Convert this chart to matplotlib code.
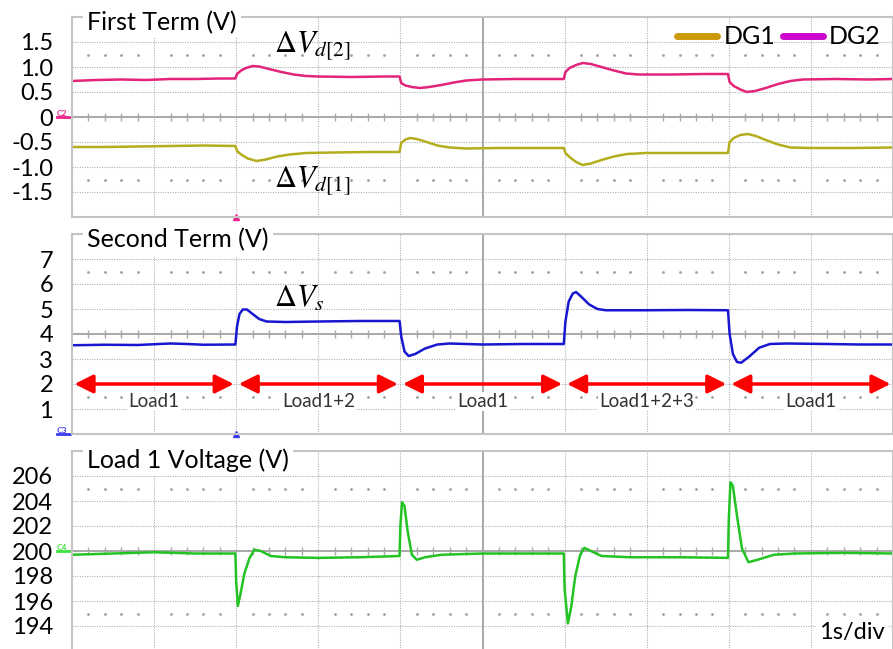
import matplotlib
matplotlib.use('Agg')
import numpy as np
import matplotlib.pyplot as plt
from matplotlib.lines import Line2D

plt.rcParams['font.family'] = ['Lato', 'DejaVu Sans']
plt.rcParams['mathtext.fontset'] = 'stix'

# --- data (time in s, value) ---
dg2_trace = [(0.0, 0.72), (0.3, 0.74), (0.6, 0.75), (0.9, 0.74), (1.2, 0.76), (1.5, 0.76), (1.8, 0.77), (1.99, 0.77),
             (2.01, 0.86), (2.06, 0.93), (2.12, 0.98), (2.2, 1.02), (2.28, 1.01), (2.4, 0.96), (2.55, 0.9), (2.7, 0.85),
             (2.85, 0.82), (3.0, 0.81), (3.4, 0.8), (3.8, 0.81), (3.99, 0.81),
             (4.01, 0.68), (4.06, 0.63), (4.14, 0.6), (4.24, 0.58), (4.35, 0.6), (4.5, 0.64), (4.65, 0.69), (4.8, 0.73),
             (5.0, 0.75), (5.4, 0.76), (5.8, 0.76), (5.99, 0.76),
             (6.01, 0.9), (6.06, 0.98), (6.14, 1.04), (6.22, 1.08), (6.32, 1.06), (6.45, 1.0), (6.6, 0.93), (6.75, 0.87),
             (6.9, 0.85), (7.3, 0.85), (7.7, 0.86), (7.99, 0.86),
             (8.01, 0.7), (8.06, 0.62), (8.14, 0.55), (8.22, 0.5), (8.32, 0.52), (8.45, 0.58), (8.6, 0.66), (8.75, 0.72),
             (8.9, 0.75), (9.3, 0.76), (9.7, 0.75), (10.0, 0.76)]

dg1_trace = [(0.0, -0.6), (0.4, -0.6), (0.8, -0.59), (1.2, -0.58), (1.6, -0.57), (1.99, -0.58),
             (2.01, -0.68), (2.06, -0.75), (2.14, -0.83), (2.25, -0.88), (2.36, -0.85), (2.5, -0.79), (2.65, -0.75),
             (2.85, -0.72), (3.2, -0.71), (3.6, -0.7), (3.99, -0.7),
             (4.01, -0.52), (4.06, -0.45), (4.12, -0.42), (4.2, -0.44), (4.32, -0.5), (4.45, -0.57), (4.6, -0.61),
             (4.8, -0.63), (5.2, -0.62), (5.6, -0.62), (5.99, -0.62),
             (6.01, -0.72), (6.06, -0.8), (6.14, -0.9), (6.22, -0.96), (6.32, -0.93), (6.45, -0.86), (6.6, -0.79),
             (6.76, -0.74), (7.0, -0.72), (7.5, -0.72), (7.99, -0.72),
             (8.01, -0.5), (8.06, -0.42), (8.14, -0.36), (8.23, -0.34), (8.33, -0.38), (8.45, -0.46), (8.6, -0.55),
             (8.75, -0.61), (9.0, -0.62), (9.5, -0.62), (10.0, -0.61)]

vs_trace = [(0.0, 3.55), (0.4, 3.57), (0.8, 3.56), (1.2, 3.62), (1.4, 3.6), (1.6, 3.57), (1.99, 3.58),
            (2.01, 4.3), (2.04, 4.8), (2.08, 4.98), (2.13, 4.98), (2.2, 4.8), (2.28, 4.6), (2.37, 4.5), (2.6, 4.48),
            (3.0, 4.5), (3.5, 4.52), (3.99, 4.52),
            (4.01, 3.9), (4.05, 3.3), (4.1, 3.12), (4.18, 3.2), (4.3, 3.42), (4.45, 3.58), (4.6, 3.62), (5.0, 3.58),
            (5.5, 3.6), (5.99, 3.6),
            (6.01, 4.5), (6.05, 5.3), (6.1, 5.62), (6.14, 5.68), (6.2, 5.5), (6.3, 5.18), (6.4, 5.0), (6.5, 4.95),
            (7.0, 4.95), (7.5, 4.96), (7.99, 4.95),
            (8.01, 4.0), (8.05, 3.2), (8.1, 2.88), (8.15, 2.85), (8.25, 3.1), (8.37, 3.45), (8.5, 3.6), (8.7, 3.62),
            (9.2, 3.6), (9.6, 3.58), (10.0, 3.58)]

load1_trace = [(0.0, 199.7), (0.5, 199.8), (1.0, 199.9), (1.5, 199.8), (1.99, 199.8),
               (2.0, 197.5), (2.02, 195.6), (2.05, 196.5), (2.1, 198.2), (2.16, 199.4), (2.22, 200.1), (2.3, 200.0),
               (2.42, 199.6), (2.6, 199.5), (3.0, 199.45), (3.5, 199.5), (3.99, 199.6),
               (4.0, 202.0), (4.02, 203.9), (4.05, 203.6), (4.09, 201.5), (4.14, 199.7), (4.2, 199.3), (4.3, 199.5),
               (4.5, 199.7), (5.0, 199.8), (5.5, 199.8), (5.99, 199.8),
               (6.0, 197.0), (6.04, 194.2), (6.08, 195.5), (6.13, 198.0), (6.19, 199.7), (6.24, 200.25), (6.32, 200.0),
               (6.45, 199.6), (6.8, 199.5), (7.4, 199.5), (7.99, 199.45),
               (8.0, 202.5), (8.02, 205.5), (8.05, 205.2), (8.1, 202.8), (8.16, 200.2), (8.24, 199.1), (8.35, 199.3),
               (8.55, 199.7), (8.8, 199.8), (9.4, 199.85), (10.0, 199.8)]

load_edges = [0, 2, 4, 6, 8, 10]
load_names = ['Load1', 'Load1+2', 'Load1', 'Load1+2+3', 'Load1']

top_ticks = [1.5, 1.0, 0.5, 0, -0.5, -1.0, -1.5]
top_labels = ['1.5', '1.0', '0.5', '0', '-0.5', '-1.0', '-1.5']
mid_ticks = [7, 6, 5, 4, 3, 2, 1]
bot_ticks = [206, 204, 202, 200, 198, 196, 194]

W, H = 893, 649
fig = plt.figure(figsize=(W / 100, H / 100), dpi=100)
left = 72 / W
width = 1 - left


def panel(top_px, center, div, ticks, labels):
    ax = fig.add_axes([left, 1 - (top_px + 200) / H, width, 200 / H])
    ax.set_xlim(0, 10)
    ax.set_ylim(center - 4 * div, center + 4 * div)
    for s in ax.spines.values():
        s.set_color('#c4c4c4')
        s.set_linewidth(1.5)
    for k in range(1, 10):
        if k != 5:
            ax.axvline(k, color='#b0b0b0', lw=0.8, ls=(0, (1, 1.2)), zorder=0)
    for k in range(-3, 4):
        if k != 0:
            ax.axhline(center + k * div, color='#b0b0b0', lw=0.8, ls=(0, (1, 1.2)), zorder=0)
    ax.axvline(5, color='#a8a8a8', lw=1.4, zorder=0)
    ax.axhline(center, color='#a8a8a8', lw=1.4, zorder=0)
    sub = np.array([x / 5 for x in range(1, 50) if x % 5 != 0])
    ax.plot(sub, np.full(sub.size, center), ls='none', marker='|', ms=6, mew=1, color='#a8a8a8', zorder=0)
    for off in (2.5, -2.5):
        ax.plot(sub, np.full(sub.size, center + off * div), ls='none', marker='.', ms=2, color='#a0a0a0', zorder=0)
    ax.set_xticks([])
    ax.set_yticks(ticks, labels)
    ax.tick_params(axis='y', length=0, pad=13.5, labelsize=17)
    return ax


def title(ax, txt, y):
    ax.text(0.018, y, txt, transform=ax.transAxes, ha='left', va='center', fontsize=18,
            bbox=dict(facecolor='white', edgecolor='none', pad=3), zorder=5)


def channel_mark(ax, name, level, color):
    tr = ax.get_yaxis_transform()
    ax.plot([-0.018, -0.003], [level, level], transform=tr, color=color, lw=2, clip_on=False)
    ax.text(-0.012, level, name, transform=tr, ha='center', va='bottom', fontsize=6,
            fontweight='bold', color=color, clip_on=False)


# --- first term ---
ax1 = panel(17, 0, 0.5, top_ticks, top_labels)
t, v = zip(*dg2_trace)
ax1.plot(t, v, color='#e3247a', lw=1.8)
t, v = zip(*dg1_trace)
ax1.plot(t, v, color='#b4ad1e', lw=1.8)
title(ax1, 'First Term (V)', 0.972)
channel_mark(ax1, 'C2', 0, '#f0208a')
ax1.plot(2, -2, marker='^', ms=4, color='#f0208a', clip_on=False)
ax1.text(2.46, 1.27, r'$\Delta V_{d[2]}$', fontsize=22, ha='left', va='baseline')
ax1.text(2.46, -1.42, r'$\Delta V_{d[1]}$', fontsize=22, ha='left', va='baseline')
handles = [Line2D([], [], color='#cc9a06', lw=5, solid_capstyle='round'),
           Line2D([], [], color='#cc08cc', lw=5, solid_capstyle='round')]
ax1.legend(handles, ['DG1', 'DG2'], ncol=2, frameon=False, fontsize=18, loc='center right',
           bbox_to_anchor=(1.0, 0.9), handlelength=1.6, handletextpad=0.25, columnspacing=0.3,
           borderaxespad=0.1)

# --- second term ---
ax2 = panel(234, 4, 1, mid_ticks, [str(k) for k in mid_ticks])
t, v = zip(*vs_trace)
ax2.plot(t, v, color='#1717d0', lw=1.8)
title(ax2, 'Second Term (V)', 0.97)
channel_mark(ax2, 'C3', 0, '#3a3af0')
ax2.plot(2, 0, marker='^', ms=4, color='#3a3af0', clip_on=False)
ax2.text(2.46, 5.09, r'$\Delta V_s$', fontsize=22, ha='left', va='baseline')
for a, b, name in zip(load_edges[:-1], load_edges[1:], load_names):
    ax2.annotate('', xy=(b - 0.03, 2), xytext=(a + 0.03, 2),
                 arrowprops=dict(arrowstyle='<|-|>', color='red', lw=2.5, mutation_scale=28,
                                 shrinkA=0, shrinkB=0))
    ax2.text((a + b) / 2, 1.3, name, ha='center', va='center', fontsize=13.5, color='#333333',
             bbox=dict(facecolor='white', edgecolor='none', pad=1))

# --- load 1 voltage ---
ax3 = panel(451, 200, 2, bot_ticks, [str(k) for k in bot_ticks])
t, v = zip(*load1_trace)
ax3.plot(t, v, color='#22c322', lw=1.8)
title(ax3, 'Load 1 Voltage (V)', 0.955)
channel_mark(ax3, 'C4', 200, '#3ee03e')
ax3.text(0.99, 0.095, '1s/div', transform=ax3.transAxes, ha='right', va='center', fontsize=17,
         bbox=dict(facecolor='white', edgecolor='none', pad=2))

fig.savefig('out.png', dpi=100)
